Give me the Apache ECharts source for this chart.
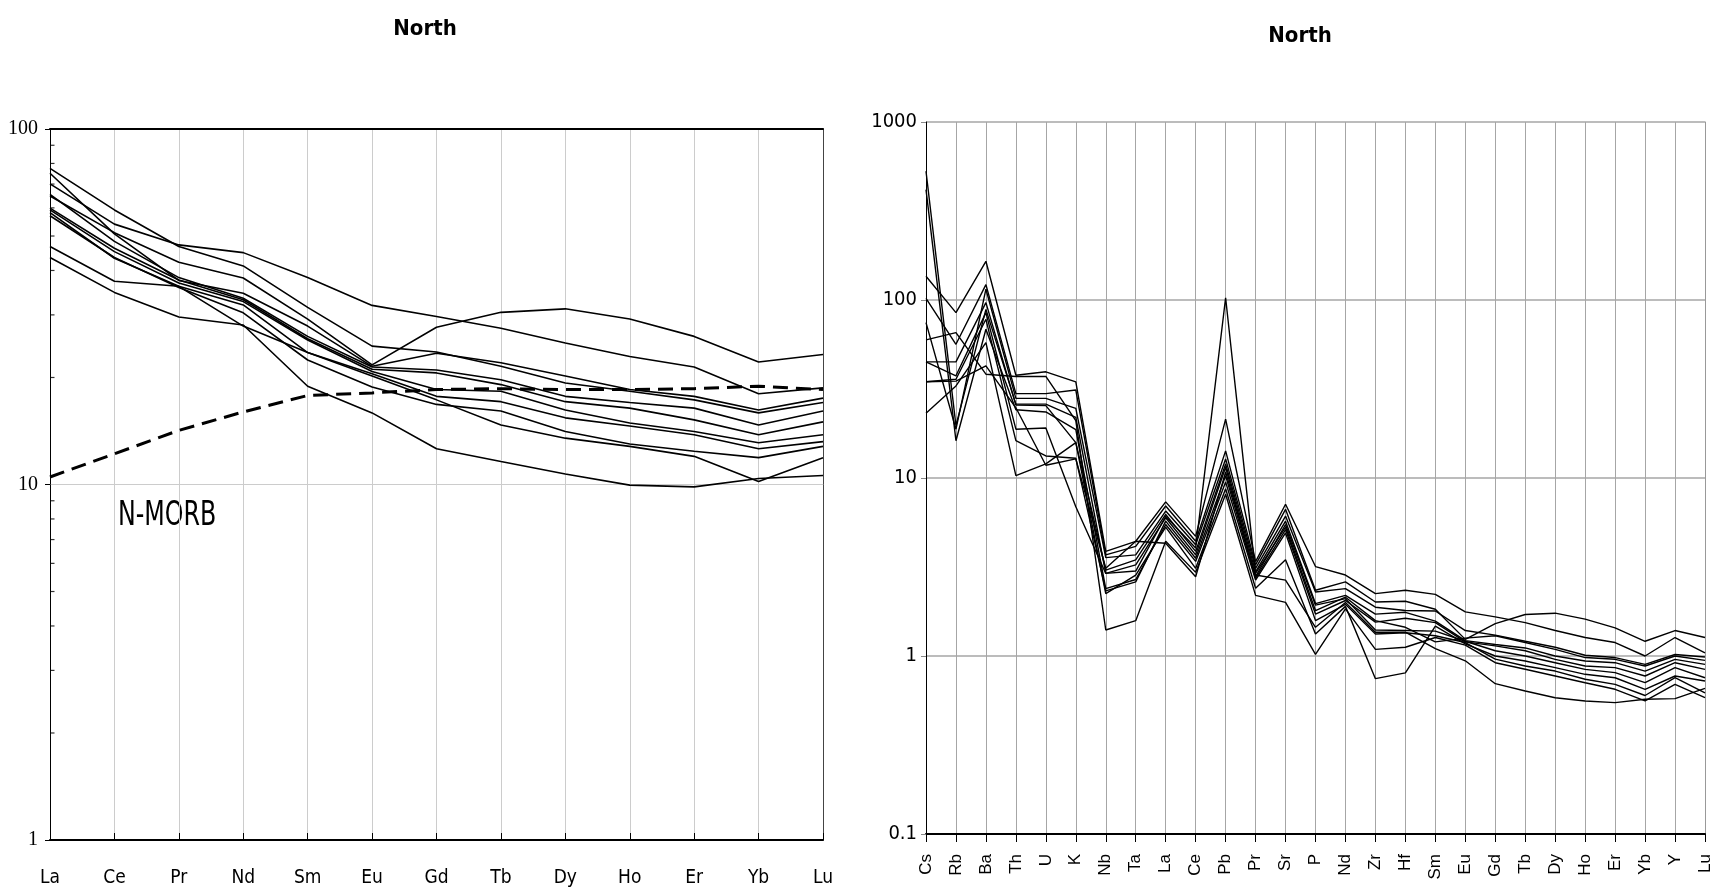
<!DOCTYPE html>
<html><head><meta charset="utf-8">
<script src="https://cdn.jsdelivr.net/npm/echarts@6/dist/echarts.min.js"></script>
<style>html,body{margin:0;padding:0;background:#fff}#c{width:1716px;height:895px}</style>
</head><body><div id="c"></div>
<script>
// ---------- data ----------
const reeElements = ['La','Ce','Pr','Nd','Sm','Eu','Gd','Tb','Dy','Ho','Er','Yb','Lu'];
const nmorb = [10.5, 12.2, 14.2, 16.0, 17.8, 18.1, 18.5, 18.6, 18.5, 18.5, 18.6, 18.9, 18.5];
const ree1  = [70.1, 54.0, 47.2, 44.9, 38.2, 31.9, 29.7, 27.5, 25.0, 22.9, 21.4, 18.0, 18.7];
const ree2  = [77.5, 59.2, 46.7, 41.2, 31.5, 24.5, 23.6, 21.5, 19.3, 18.3, 17.3, 15.9, 17.0];
const ree3  = [64.8, 51.1, 42.2, 38.1, 29.2, 21.7, 27.7, 30.5, 31.2, 29.2, 26.1, 22.1, 23.2];
const ree4  = [75.1, 50.7, 37.5, 34.5, 27.9, 21.5, 23.4, 22.0, 20.2, 18.5, 17.7, 16.2, 17.5];
const ree5  = [65.5, 48.3, 38.2, 33.4, 26.1, 21.4, 21.0, 19.7, 17.7, 17.0, 16.4, 14.7, 16.1];
const ree6  = [59.9, 46.2, 37.6, 33.1, 25.7, 21.1, 20.6, 19.1, 17.1, 16.4, 15.2, 13.8, 15.0];
const ree7  = [59.2, 45.2, 36.9, 32.7, 25.5, 20.8, 18.5, 18.3, 16.2, 14.9, 14.1, 13.1, 13.8];
const ree8  = [58.2, 43.3, 36.1, 32.0, 23.5, 20.5, 17.7, 17.1, 15.4, 14.6, 13.8, 12.6, 13.2];
const ree9  = [57.0, 43.5, 35.8, 30.4, 22.4, 18.8, 16.8, 16.1, 14.1, 13.0, 12.4, 11.9, 12.8];
const ree10 = [46.7, 37.3, 36.1, 27.9, 23.5, 20.2, 17.3, 14.7, 13.5, 12.8, 12.0, 10.2, 11.9];
const ree11 = [43.5, 34.7, 29.6, 28.1, 18.9, 15.9, 12.6, 11.6, 10.7, 9.96, 9.85, 10.4, 10.6];

const spiderElements = ['Cs','Rb','Ba','Th','U','K','Nb','Ta','La','Ce','Pb','Pr','Sr','P','Nd','Zr','Hf','Sm','Eu','Gd','Tb','Dy','Ho','Er','Yb','Y','Lu'];
const spider1  = [529, 19.7, 88.6, 26.0, 26.0, 21.9, 2.91, 3.25, 5.98, 3.70, 11.5, 2.79, 5.48, 1.93, 2.10, 1.40, 1.39, 1.38, 1.21, 1.07, 1.00, 0.917, 0.841, 0.806, 0.708, 0.86, 0.755];
const spider2  = [417, 16.2, 68.5, 24.2, 23.5, 18.7, 2.39, 2.69, 5.48, 3.40, 9.5, 2.67, 4.91, 1.58, 1.95, 1.33, 1.35, 1.30, 1.19, 0.96, 0.879, 0.823, 0.740, 0.693, 0.60, 0.755, 0.62];
const spider3  = [136, 84.9, 165, 37.8, 39.5, 34.7, 3.87, 4.41, 7.34, 4.70, 21.4, 3.39, 7.12, 3.18, 2.85, 2.24, 2.34, 2.22, 1.77, 1.66, 1.54, 1.39, 1.27, 1.19, 1.00, 1.27, 1.04];
const spider4  = [102, 56.4, 122, 29.8, 29.8, 31.2, 3.70, 4.13, 6.96, 4.41, 14.2, 3.25, 6.67, 2.34, 2.61, 2.01, 2.03, 1.83, 1.24, 1.52, 1.71, 1.74, 1.61, 1.44, 1.21, 1.39, 1.27];
const spider5  = [74.6, 18.8, 115, 28.0, 28.0, 24.6, 3.57, 3.70, 6.52, 4.22, 12.8, 3.11, 6.11, 2.29, 2.39, 1.88, 1.80, 1.79, 1.39, 1.31, 1.21, 1.12, 1.01, 0.98, 0.898, 1.02, 0.987];
const spider6  = [59.7, 65.6, 38.3, 37.2, 37.2, 21.0, 1.40, 1.58, 4.41, 2.95, 8.1, 2.19, 2.0, 1.02, 1.84, 1.09, 1.12, 1.27, 1.15, 0.917, 0.842, 0.772, 0.708, 0.65, 0.559, 0.693, 0.583];
const spider7  = [44.9, 44.9, 96.6, 25.7, 25.5, 15.8, 3.04, 3.47, 6.25, 3.87, 12.0, 2.97, 5.72, 1.97, 2.19, 1.72, 1.76, 1.57, 1.22, 1.16, 1.11, 1.00, 0.937, 0.917, 0.823, 0.958, 0.898];
const spider8  = [34.7, 35.9, 77.9, 16.2, 13.3, 12.9, 2.32, 2.61, 5.72, 3.54, 10.3, 2.73, 5.13, 1.72, 2.05, 1.55, 1.63, 1.54, 1.20, 1.14, 1.07, 0.958, 0.879, 0.86, 0.772, 0.917, 0.841];
const spider9  = [23.1, 32.9, 57.6, 10.3, 12.0, 15.8, 2.24, 2.85, 5.3, 3.11, 8.7, 2.4, 3.47, 1.33, 1.90, 0.746, 0.804, 1.47, 1.17, 1.00, 0.937, 0.86, 0.789, 0.755, 0.65, 0.772, 0.724];
const spider10 = [44.9, 37.5, 84.9, 18.8, 19.1, 6.9, 2.91, 3.0, 6.1, 4.04, 103, 2.91, 5.3, 1.80, 2.14, 1.58, 1.45, 1.20, 1.26, 1.30, 1.19, 1.09, 0.98, 0.958, 0.879, 1.00, 0.945];
const spider11 = [34.7, 35.0, 42.6, 24.8, 11.8, 12.8, 3.11, 4.41, 4.3, 2.79, 10.8, 2.85, 2.67, 1.45, 2.0, 1.36, 1.36, 1.10, 0.94, 0.699, 0.636, 0.583, 0.559, 0.547, 0.571, 0.576, 0.658];

const leftMinorTicks = [2,3,4,5,6,7,8,9,20,30,40,50,60,70,80,90];
const titleText = 'North';
const morbLabel = 'N-MORB';

// ---------- chart ----------
const NARROW = "'Liberation Sans Narrow', 'DejaVu Sans Condensed', sans-serif";
const chart = echarts.init(document.getElementById('c'), null, {renderer: 'canvas'});

const reeSamples = [ree1, ree2, ree3, ree4, ree5, ree6, ree7, ree8, ree9, ree10, ree11];
const spiderSamples = [spider1, spider2, spider3, spider4, spider5, spider6, spider7, spider8, spider9, spider10, spider11];

const series = [];
reeSamples.forEach((d, i) => series.push({
  type: 'line', name: 'ree' + (i + 1), xAxisIndex: 0, yAxisIndex: 0,
  data: d, symbol: 'none', lineStyle: {color: '#000', width: 1.6}, silent: true, z: 3
}));
series.push({
  type: 'line', name: 'N-MORB', xAxisIndex: 0, yAxisIndex: 0,
  data: nmorb, symbol: 'none', lineStyle: {color: '#000', width: 3, type: [15, 8]}, silent: true, z: 4
});
series.push({
  type: 'scatter', xAxisIndex: 0, yAxisIndex: 0,
  data: leftMinorTicks.map(v => [reeElements[0], v]),
  symbol: 'rect', symbolSize: [4, 1.2], symbolOffset: [2.5, 0],
  itemStyle: {color: '#000'}, silent: true, z: 6, clip: false
});
spiderSamples.forEach((d, i) => series.push({
  type: 'line', name: 'spider' + (i + 1), xAxisIndex: 2, yAxisIndex: 2,
  data: d, symbol: 'none', lineStyle: {color: '#000', width: 1.4}, silent: true, z: 3
}));

const option = {
  animation: false,
  backgroundColor: '#fff',
  title: [
    {text: titleText, left: 420, top: 13, textAlign: 'center',
     textStyle: {fontFamily: NARROW, fontWeight: 'bold', fontSize: 22, color: '#000'}},
    {text: titleText, left: 1295, top: 20, textAlign: 'center',
     textStyle: {fontFamily: NARROW, fontWeight: 'bold', fontSize: 22, color: '#000'}}
  ],
  grid: [
    {left: 50, top: 129, width: 773, height: 711},
    {left: 926, top: 122, width: 779, height: 712}
  ],
  xAxis: [
    {type: 'category', gridIndex: 0, data: reeElements, boundaryGap: false, position: 'bottom',
     axisLine: {lineStyle: {color: '#000', width: 2}},
     axisTick: {show: true, inside: true, length: 7, lineStyle: {color: '#000'}},
     axisLabel: {color: '#000', fontFamily: NARROW, fontSize: 19, margin: 29},
     splitLine: {show: true, lineStyle: {color: '#cccccc', width: 1}}},
    {type: 'category', gridIndex: 0, data: reeElements, boundaryGap: false, position: 'top',
     axisLine: {lineStyle: {color: '#000', width: 2}},
     axisTick: {show: false}, axisLabel: {show: false}, splitLine: {show: false}},
    {type: 'category', gridIndex: 1, data: spiderElements, boundaryGap: false, position: 'bottom',
     axisLine: {lineStyle: {color: '#000', width: 2}},
     axisTick: {show: true, inside: false, length: 8, lineStyle: {color: '#000'}},
     axisLabel: {color: '#000', fontFamily: "'Liberation Sans', Arial, sans-serif", fontSize: 17, rotate: 90, margin: 20, interval: 0},
     splitLine: {show: true, lineStyle: {color: '#a6a6a6', width: 1}}}
  ],
  yAxis: [
    {type: 'log', logBase: 10, gridIndex: 0, min: 1, max: 100,
     axisLine: {show: true, lineStyle: {color: '#000', width: 1}},
     axisTick: {show: true, length: 5, lineStyle: {color: '#000'}},
     axisLabel: {color: '#000', fontFamily: "'Liberation Serif', serif", fontSize: 20, margin: 12,
                 formatter: v => String(v)},
     splitLine: {show: true, lineStyle: {color: '#cccccc', width: 1}}},
    {type: 'log', logBase: 10, gridIndex: 0, min: 1, max: 100, position: 'right',
     axisLine: {show: true, lineStyle: {color: '#444', width: 1}},
     axisTick: {show: false}, axisLabel: {show: false}, splitLine: {show: false}},
    {type: 'log', logBase: 10, gridIndex: 1, min: 0.1, max: 1000,
     axisLine: {show: true, lineStyle: {color: '#000', width: 1}},
     axisTick: {show: true, length: 5, lineStyle: {color: '#888'}},
     axisLabel: {color: '#000', fontFamily: NARROW, fontSize: 20, margin: 9,
                 formatter: v => String(v)},
     splitLine: {show: true, lineStyle: {color: '#a6a6a6', width: 1.5}}},
    {type: 'log', logBase: 10, gridIndex: 1, min: 0.1, max: 1000, position: 'right',
     axisLine: {show: true, lineStyle: {color: '#999', width: 1}},
     axisTick: {show: false}, axisLabel: {show: false}, splitLine: {show: false}}
  ],
  graphic: [
    {type: 'text', x: 118, y: 500, scaleX: 0.8, silent: true,
     style: {text: morbLabel, fill: '#000', font: "33px " + NARROW}}
  ],
  series: series
};
chart.setOption(option);
</script>
</body></html>
